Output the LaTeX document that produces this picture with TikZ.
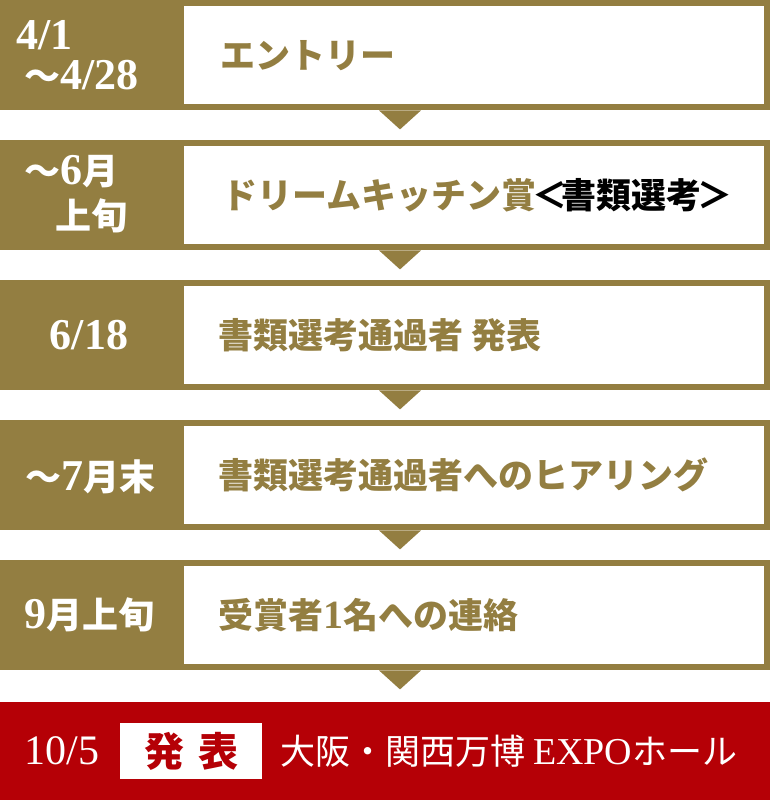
\documentclass[tikz,border=0pt]{standalone}
\usepackage{fontspec}
\setmainfont{Liberation Serif}
\newfontfamily\jpfont{Noto Sans CJK JP}
\usetikzlibrary{positioning, calc}
\definecolor{gold}{RGB}{147,126,65}
\definecolor{expored}{RGB}{181,0,6}
\newcommand\jpsize{\fontsize{35}{40}\selectfont}
\newcommand\digits[1]{{\rmfamily\fontsize{44}{48}\selectfont #1}}
\newcommand\datejp[1]{{\jpfont\fontsize{36}{40}\selectfont #1}}

\tikzset{
  rowbg/.style={fill=gold, inner sep=0, minimum width=770pt, minimum height=110pt, anchor=north west},
  stepbox/.style={fill=white, inner sep=0, minimum width=580pt, minimum height=98pt, anchor=north west},
  datelabel/.style={text=white, inner sep=0, font=\bfseries},
  steplabel/.style={text=gold, inner sep=0, font=\jpfont\bfseries\jpsize},
}

\begin{document}
\begin{tikzpicture}[x=1pt, y=-1pt]
\useasboundingbox (0,0) rectangle (770,800);

\node [rowbg] (row1) at (0,0) {};
\node [rowbg] (row2) at (0,140) {};
\node [rowbg] (row3) at (0,280) {};
\node [rowbg] (row4) at (0,420) {};
\node [rowbg] (row5) at (0,560) {};
\node [rowbg, fill=expored, minimum height=98pt] (final) at (0,702) {};

\foreach \r in {1,...,5}
  \fill [gold] ($(row\r.south west)+(379,0)$) -- ++(42,0) -- ++(-21,19) -- cycle;

\node [stepbox] (step1) at (184,6) {};
\node [stepbox] (step2) at (184,146) {};
\node [stepbox] (step3) at (184,286) {};
\node [stepbox] (step4) at (184,426) {};
\node [stepbox] (step5) at (184,566) {};

% dates
\node [datelabel, anchor=west] (date1a) at (16,35) {\digits{4/1}};
\node [datelabel, anchor=west] (date1b) at (24,75) {\datejp{～}\digits{4/28}};
\node [datelabel, anchor=west] (date2a) at (24,172) {\datejp{～}\digits{6}\datejp{月}};
\node [datelabel, anchor=west] (date2b) at (55,216) {\datejp{上旬}};
\node [datelabel] (date3) at (89,335) {\digits{6/18}};
\node [datelabel] (date4) at (90,477) {\datejp{～}\digits{7}\datejp{月末}};
\node [datelabel] (date5) at (89,615) {\digits{9}\datejp{月上旬}};

% steps
\node [steplabel, right=36pt of step1.west, anchor=west] (text1) {エントリー};
\node [steplabel, right=38pt of step2.west, anchor=west] (text2) {ドリームキッチン賞\textcolor{black}{\kern-4pt＜\kern-6pt書類選考\kern-4pt＞}};
\node [steplabel, right=34pt of step3.west, anchor=west] (text3) {書類選考通過者 発表};
\node [steplabel, right=34pt of step4.west, anchor=west] (text4) {書類選考通過者へのヒアリング};
\node [steplabel, right=34pt of step5.west, anchor=west] (text5) {受賞者{\rmfamily\fontsize{40}{44}\selectfont 1}名への連絡};

% announcement
\node [text=white, inner sep=0] (date6) at (62,751) {\rmfamily\fontsize{42}{46}\selectfont 10/5};
\node [fill=white, inner sep=0, minimum width=142pt, minimum height=56pt, text=expored] (badge) at (191,751) {\jpfont\bfseries\fontsize{40}{44}\selectfont 発\hspace{14pt}表};
\node [text=white, inner sep=0, anchor=west] (venue) at (280,751) {\jpfont\jpsize 大阪・関西万博 {\rmfamily\fontsize{38}{42}\selectfont EXPO}ホール};
\end{tikzpicture}
\end{document}
